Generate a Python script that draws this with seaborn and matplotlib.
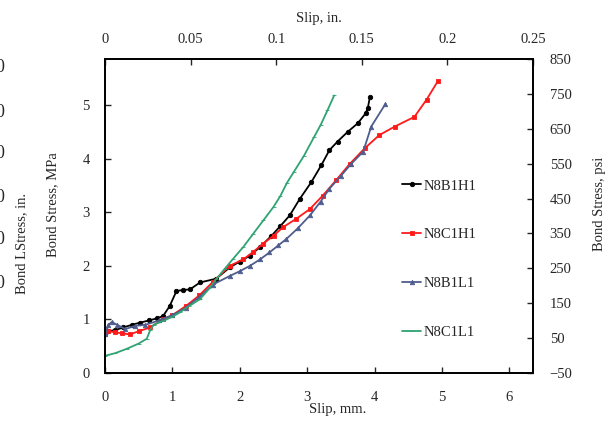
#!/usr/bin/env python3
"""Bond stress vs. slip for four N8 specimens (dual-unit axes).

Writes: out.png
"""

from __future__ import annotations

import matplotlib.lines as mlines
import matplotlib.pyplot as plt
import pandas as pd
import seaborn as sns

OUT_PATH = "out.png"

# slip in mm, bond stress in MPa
B1H1_SLIP = [0, 0.05, 0.15, 0.27, 0.4, 0.52, 0.65, 0.77, 0.86, 0.96, 1.06, 1.16,
             1.26, 1.41, 1.65, 1.85, 2.0, 2.15, 2.3, 2.47, 2.6, 2.74, 2.89, 3.06,
             3.21, 3.33, 3.45, 3.6, 3.75, 3.87, 3.9, 3.93]
B1H1_STRESS = [0.72, 0.78, 0.8, 0.85, 0.9, 0.94, 0.98, 1.02, 1.06, 1.25, 1.53, 1.55,
               1.56, 1.69, 1.76, 1.97, 2.08, 2.19, 2.35, 2.56, 2.74, 2.94, 3.25, 3.56,
               3.88, 4.16, 4.32, 4.5, 4.66, 4.85, 4.95, 5.15]

C1H1_SLIP = [0, 0.05, 0.15, 0.25, 0.37, 0.5, 0.67, 0.86, 1.0, 1.2, 1.4, 1.6, 1.85,
             2.05, 2.2, 2.34, 2.5, 2.64, 2.84, 3.04, 3.23, 3.43, 3.63, 3.85, 4.07,
             4.3, 4.59, 4.77, 4.94]
C1H1_STRESS = [0.72, 0.78, 0.76, 0.74, 0.72, 0.78, 0.85, 1.0, 1.08, 1.25, 1.45, 1.7,
               2.0, 2.12, 2.26, 2.41, 2.56, 2.72, 2.88, 3.06, 3.31, 3.6, 3.9, 4.19,
               4.44, 4.6, 4.78, 5.1, 5.45]

B1L1_SLIP = [0, 0.05, 0.1, 0.18, 0.3, 0.45, 0.6, 0.8, 1.0, 1.2, 1.4, 1.6, 1.85, 2.0,
             2.15, 2.3, 2.44, 2.57, 2.69, 2.86, 3.04, 3.2, 3.33, 3.5, 3.65, 3.83,
             3.95, 4.16]
B1L1_STRESS = [0.72, 0.9, 0.95, 0.9, 0.82, 0.88, 0.9, 0.98, 1.08, 1.22, 1.42, 1.65,
               1.81, 1.9, 2.0, 2.12, 2.25, 2.38, 2.5, 2.7, 2.94, 3.2, 3.44, 3.68, 3.9,
               4.13, 4.6, 5.02]

C1L1_SLIP = [0, 0.15, 0.32, 0.5, 0.62, 0.67, 0.72, 0.86, 1.0, 1.11, 1.25, 1.41, 1.55,
             1.65, 1.78, 1.9, 2.05, 2.2, 2.35, 2.5, 2.6, 2.7, 2.8, 2.95, 3.1, 3.2,
             3.3, 3.4]
C1L1_STRESS = [0.32, 0.37, 0.45, 0.55, 0.64, 0.8, 0.9, 0.97, 1.05, 1.13, 1.25, 1.38,
               1.58, 1.75, 1.95, 2.13, 2.35, 2.6, 2.85, 3.1, 3.3, 3.55, 3.75, 4.05,
               4.4, 4.63, 4.9, 5.18]

# (label, slip, stress, color, marker)
SERIES = [
    ("N8B1H1", B1H1_SLIP, B1H1_STRESS, "#000000", "o"),
    ("N8C1H1", C1H1_SLIP, C1H1_STRESS, "#ff1a1a", "s"),
    ("N8B1L1", B1L1_SLIP, B1L1_STRESS, "#4f5d8e", "^"),
    ("N8C1L1", C1L1_SLIP, C1L1_STRESS, "#2fa373", "_"),
]

BOTTOM_TICKS = [0, 1, 2, 3, 4, 5, 6]
LEFT_TICKS = [0, 1, 2, 3, 4, 5]
TOP_TICKS = [0, 0.05, 0.1, 0.15, 0.2, 0.25]
TOP_LABELS = ["0", "0.05", "0.1", "0.15", "0.2", "0.25"]
RIGHT_TICKS = [-50, 50, 150, 250, 350, 450, 550, 650, 750, 850]


def main() -> None:
    sns.set_theme(style="white")
    plt.rcParams["font.family"] = ["Liberation Serif", "DejaVu Serif"]
    plt.rcParams["font.size"] = 10.5

    fig = plt.figure(figsize=(6.13, 4.22), dpi=100)
    ax = fig.add_axes([0.1713, 0.1161, 0.6982, 0.7441])

    for lab, slip, stress, color, marker in SERIES:
        d = pd.DataFrame({"slip": slip, "stress": stress})
        sns.lineplot(
            data=d, x="slip", y="stress", color=color, marker=marker,
            sort=False, estimator=None, linewidth=1.3, markersize=3.2,
            markeredgewidth=0.6, markeredgecolor=color, ax=ax,
        )

    ax.set_xlim(0, 6.35)
    ax.set_ylim(0, 5.86)
    ax.set_xticks(BOTTOM_TICKS)
    ax.set_yticks(LEFT_TICKS)
    ax.set_xlabel("Slip, mm.", fontsize=10.5)
    ax.set_ylabel("Bond Stress, MPa", fontsize=10.5)
    ax.xaxis.set_label_coords(0.544, -0.097)
    ax.yaxis.set_label_coords(-0.106, 0.535)
    ax.tick_params(direction="in", length=4, width=1.0, labelsize=10.5,
                   bottom=True, left=True)
    ax.tick_params(axis="x", pad=13)
    ax.tick_params(axis="y", pad=11)

    ax_top = ax.twiny()
    ax_top.set_xlim(0, 0.25)
    ax_top.set_xticks(TOP_TICKS)
    ax_top.set_xticklabels(TOP_LABELS)
    ax_top.set_xlabel("Slip, in.", fontsize=10.5, labelpad=8)
    ax_top.tick_params(direction="in", length=4, width=1.0, labelsize=10.5, pad=9,
                       top=True)

    ax_r = ax.twinx()
    ax_r.set_ylim(-50, 850)
    ax_r.set_yticks(RIGHT_TICKS)
    ax_r.set_ylabel("Bond Stress, psi", fontsize=10.5)
    ax_r.yaxis.set_label_coords(1.141, 0.54)
    ax_r.tick_params(direction="in", length=4, width=1.0, labelsize=10.5, pad=12,
                     right=True)

    for a in (ax, ax_top, ax_r):
        for sp in a.spines.values():
            sp.set_color("black")
            sp.set_linewidth(1.1)

    # clipped third axis at the far left of the original figure
    fig.text(0.036, 1 - 243 / 422, "Bond LStress, in.", rotation=90,
             ha="center", va="center", fontsize=10.5)
    for ypx in [68, 112, 154, 197, 240, 283]:
        fig.text(0.0, 1 - ypx / 422, "0", ha="center", va="center", fontsize=13)

    handles = [
        mlines.Line2D([], [], color=c, marker=m, markersize=3.2, linewidth=1.3,
                      markeredgewidth=0.6, label=lab)
        for lab, _s, _t, c, m in SERIES
    ]
    fig.legend(
        handles=handles, loc="upper left",
        bbox_to_anchor=(395 / 613, 1 - 172 / 422),
        frameon=False, fontsize=10.5, handlelength=1.3, handletextpad=0.15,
        labelspacing=2.45, borderpad=0.0,
    )

    fig.savefig(OUT_PATH, dpi=100)
    plt.close(fig)


if __name__ == "__main__":
    main()
